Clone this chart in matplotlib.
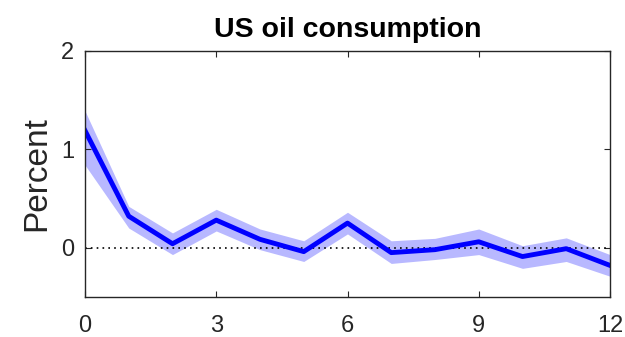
import numpy as np
import matplotlib
matplotlib.use("Agg")
import matplotlib.pyplot as plt

# impulse response of US oil consumption, horizon in months
horizon = [0, 1, 2, 3, 4, 5, 6, 7, 8, 9, 10, 11, 12]
response = [1.19, 0.32, 0.04, 0.28, 0.085, -0.04, 0.25, -0.05, -0.02, 0.06, -0.09, -0.01, -0.18]
band_upper = [1.39, 0.42, 0.15, 0.39, 0.19, 0.07, 0.36, 0.07, 0.095, 0.19, 0.02, 0.10, -0.07]
band_lower = [0.84, 0.20, -0.07, 0.17, -0.02, -0.14, 0.14, -0.16, -0.12, -0.07, -0.21, -0.14, -0.29]

plt.rcParams['font.family'] = ['Liberation Sans', 'DejaVu Sans']

fig = plt.figure(figsize=(6.25, 3.37), dpi=100)
ax = fig.add_axes([0.136, 0.119, 0.840, 0.730])

ax.fill_between(horizon, band_lower, band_upper, color=(0.72, 0.72, 1.0), linewidth=0)
ax.axhline(0, color='black', linestyle=(0, (1, 2.5)), linewidth=1.2)
ax.plot(horizon, response, color=(0, 0, 1), linewidth=3.5)

ax.set_xlim(0, 12)
ax.set_ylim(-0.5, 2)
ax.set_xticks([0, 3, 6, 9, 12])
ax.set_yticks([0, 1, 2])

grey = (0.15, 0.15, 0.15)
ax.tick_params(direction='in', top=True, right=True, length=4, width=0.8,
               labelsize=17, colors=grey, pad=8)
ax.tick_params(axis='x', pad=13)
for side in ax.spines.values():
    side.set_color(grey)
    side.set_linewidth(1.0)

ax.set_title('US oil consumption', fontsize=20.5, fontweight='bold', pad=10)
ax.set_ylabel('Percent', fontsize=24, color=grey, labelpad=6)

fig.savefig('out.png', dpi=100)
